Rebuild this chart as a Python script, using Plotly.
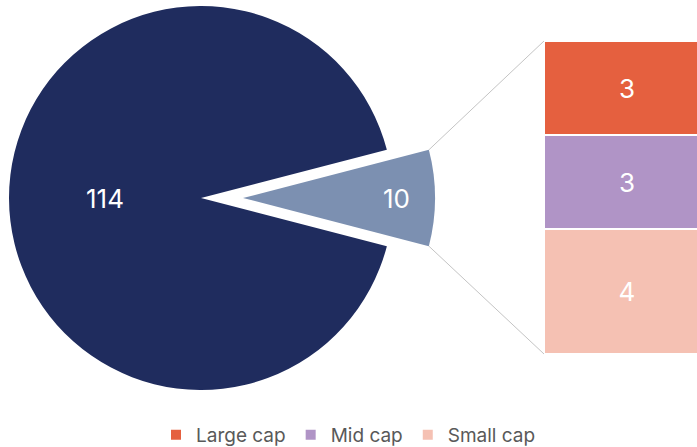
import math
import plotly.graph_objects as go

# ---- data ----
pie_labels = ["Other", "Breakdown"]
pie_values = [114, 10]
bar_labels = ["Large cap", "Mid cap", "Small cap"]
bar_values = [3, 3, 4]

# ---- styling / layout constants ----
W, H = 697, 447
PIE_R = 192          # px
PIE_CX, PIE_CY = 201, 198
PULL_PX = 42
BAR_LEFT, BAR_TOP, BAR_BOTTOM = 544, 41, 354
BAR_FULL_W = 166     # bar runs past the right edge of the picture
FONT = "Inter"
C_MAIN = "#1F2C5E"
C_SLICE = "#7C90B1"
bar_colors = {"Large cap": "#E5603F", "Mid cap": "#B094C6", "Small cap": "#F5C1B3"}
LABEL_SIZE = 26


def fx(px):
    return px / W


def fy(py):
    return 1 - py / H


total = sum(pie_values)
slice_deg = 360 * pie_values[1] / total
rotation = 90 - slice_deg / 2  # centre the small slice at 3 o'clock

fig = go.Figure()

# main pie (small slice hidden)
fig.add_trace(go.Pie(
    labels=pie_labels, values=pie_values, sort=False, direction="clockwise",
    rotation=rotation + slice_deg,
    marker=dict(colors=[C_MAIN, "rgba(0,0,0,0)"], line=dict(width=0)),
    texttemplate=["%{value}", ""], textposition="inside",
    textfont=dict(color="white", size=LABEL_SIZE, family=FONT),
    insidetextorientation="horizontal",
    domain=dict(x=[fx(PIE_CX - PIE_R), fx(PIE_CX + PIE_R)],
                y=[fy(PIE_CY + PIE_R), fy(PIE_CY - PIE_R)]),
    showlegend=False, hoverinfo="label+value",
))
# pulled-out small slice
cx2 = PIE_CX + PULL_PX
fig.add_trace(go.Pie(
    labels=pie_labels, values=pie_values, sort=False, direction="clockwise",
    rotation=rotation + slice_deg,
    marker=dict(colors=["rgba(0,0,0,0)", C_SLICE], line=dict(width=0)),
    texttemplate=["", "%{value}"], textposition="inside",
    textfont=dict(color="white", size=LABEL_SIZE, family=FONT),
    insidetextorientation="horizontal",
    domain=dict(x=[fx(cx2 - PIE_R), fx(cx2 + PIE_R)],
                y=[fy(PIE_CY + PIE_R), fy(PIE_CY - PIE_R)]),
    showlegend=False, hoverinfo="label+value",
))

# stacked bar: bottom to top = Small, Mid, Large
for lab in reversed(bar_labels):
    v = bar_values[bar_labels.index(lab)]
    fig.add_trace(go.Bar(
        x=[0], y=[v], name=lab, width=1,
        marker=dict(color=bar_colors[lab], line=dict(color="white", width=2)),
        text=[str(v)], textposition="inside", insidetextanchor="middle",
        textfont=dict(color="white", size=LABEL_SIZE, family=FONT),
        hoverinfo="name+y",
    ))

# connector lines from the slice edges to the bar corners
half = math.radians(slice_deg / 2)
sx = cx2 + PIE_R * math.cos(half)
sy_top = PIE_CY - PIE_R * math.sin(half)
sy_bot = PIE_CY + PIE_R * math.sin(half)
for sy, by in [(sy_top, BAR_TOP), (sy_bot, BAR_BOTTOM)]:
    fig.add_shape(type="line", xref="paper", yref="paper",
                  x0=fx(sx), y0=fy(sy), x1=fx(BAR_LEFT), y1=fy(by),
                  line=dict(color="#C4C4C4", width=1))

x_max = -0.5 + (W - BAR_LEFT) / BAR_FULL_W

fig.update_layout(
    width=W, height=H, margin=dict(l=0, r=0, t=0, b=0, autoexpand=False),
    paper_bgcolor="white", plot_bgcolor="white",
    barmode="stack", bargap=0,
    xaxis=dict(domain=[fx(BAR_LEFT), 1], range=[-0.5, x_max], visible=False, fixedrange=True),
    yaxis=dict(domain=[fy(BAR_BOTTOM), fy(BAR_TOP)], range=[0, sum(bar_values)],
               visible=False, fixedrange=True),
    legend=dict(orientation="h", x=0.5, xanchor="center", y=fy(435), yanchor="middle",
                traceorder="reversed", font=dict(color="#595959", size=19, family=FONT),
                itemwidth=30),
    font=dict(family=FONT),
)

fig.write_html("out.html", config={"displayModeBar": False},
               post_script="document.body.style.margin='0';")
